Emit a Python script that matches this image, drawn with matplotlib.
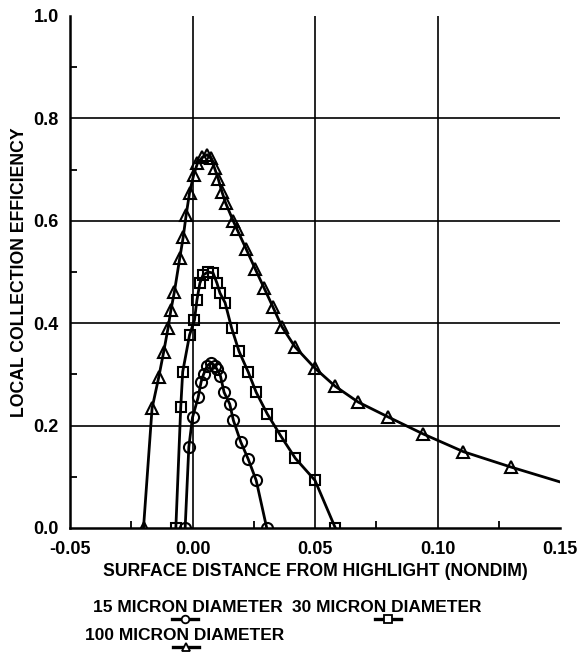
import matplotlib
matplotlib.use("Agg")
import matplotlib.pyplot as plt
from matplotlib.lines import Line2D
from matplotlib.ticker import MultipleLocator, FixedLocator

plt.rcParams['font.family'] = ['Liberation Sans', 'DejaVu Sans']
plt.rcParams['font.weight'] = 'bold'

# ---- data ----
d15_x = [-0.0030, -0.0015, 0.0000, 0.0023, 0.0035, 0.0045, 0.0060, 0.0076, 0.0090,
         0.0100, 0.0114, 0.0129, 0.0152, 0.0167, 0.0197, 0.0227, 0.0260, 0.0303]
d15_y = [0.000, 0.158, 0.216, 0.255, 0.285, 0.300, 0.317, 0.323, 0.317,
         0.310, 0.297, 0.265, 0.242, 0.210, 0.168, 0.135, 0.093, 0.000]

d30_x = [-0.0068, -0.0048, -0.0040, -0.0012, 0.0008, 0.0018, 0.0030, 0.0043, 0.0063,
         0.0084, 0.0100, 0.0112, 0.0133, 0.0160, 0.0190, 0.0228, 0.0260, 0.0305,
         0.0360, 0.0420, 0.0500, 0.0583]
d30_y = [0.000, 0.236, 0.305, 0.377, 0.406, 0.445, 0.478, 0.494, 0.500,
         0.498, 0.478, 0.459, 0.440, 0.390, 0.345, 0.304, 0.265, 0.223,
         0.180, 0.136, 0.093, 0.000]

d100_x = [-0.0200, -0.0165, -0.0138, -0.0118, -0.0100, -0.0088, -0.0074, -0.0052,
          -0.0038, -0.0026, -0.0012, 0.0005, 0.0020, 0.0040, 0.0060, 0.0075, 0.0090,
          0.0105, 0.0120, 0.0135, 0.0166, 0.0181, 0.0219, 0.0256, 0.0293, 0.0328,
          0.0365, 0.0418, 0.0500, 0.0582, 0.0676, 0.0798, 0.0940, 0.1106, 0.1300, 0.1500]
d100_y = [0.000, 0.234, 0.294, 0.343, 0.390, 0.426, 0.461, 0.527,
          0.568, 0.611, 0.655, 0.690, 0.712, 0.724, 0.729, 0.722, 0.703,
          0.682, 0.657, 0.635, 0.600, 0.584, 0.545, 0.506, 0.468, 0.432,
          0.393, 0.354, 0.312, 0.277, 0.246, 0.217, 0.184, 0.149, 0.119, 0.090]

x_ticks = [-0.05, 0.00, 0.05, 0.10, 0.15]
x_tick_labels = ["-0.05", "0.00", "0.05", "0.10", "0.15"]
y_ticks = [0.0, 0.2, 0.4, 0.6, 0.8, 1.0]
y_tick_labels = ["0.0", "0.2", "0.4", "0.6", "0.8", "1.0"]
grid_x = [0.00, 0.05, 0.10]
grid_y = [0.2, 0.4, 0.6, 0.8]

legend_labels = ["15 MICRON DIAMETER", "30 MICRON DIAMETER", "100 MICRON DIAMETER"]

W, H = 581, 652
fig = plt.figure(figsize=(W / 100, H / 100), dpi=100)
ax = fig.add_axes([70 / W, 1 - 528 / H, 490 / W, 512 / H])

ax.set_xlim(-0.05, 0.15)
ax.set_ylim(0.0, 1.0)

for gx in grid_x:
    ax.axvline(gx, color='black', lw=1.2, zorder=1)
for gy in grid_y:
    ax.axhline(gy, color='black', lw=1.2, zorder=1)

style = dict(color='black', lw=2.0, mfc='none', mec='black', mew=1.5, zorder=3)
ax.plot(d15_x, d15_y, marker='o', ms=8, **style)
ax.plot(d30_x, d30_y, marker='s', ms=7.5, **style)
ax.plot(d100_x, d100_y, marker='^', ms=9, markevery=slice(0, len(d100_x) - 1), **style)

for s in ['top', 'right']:
    ax.spines[s].set_visible(False)
for s in ['left', 'bottom']:
    ax.spines[s].set_linewidth(1.8)

ax.xaxis.set_major_locator(FixedLocator(x_ticks))
ax.set_xticklabels(x_tick_labels)
ax.yaxis.set_major_locator(FixedLocator(y_ticks))
ax.set_yticklabels(y_tick_labels)
ax.xaxis.set_minor_locator(MultipleLocator(0.025))
ax.yaxis.set_minor_locator(MultipleLocator(0.1))
ax.tick_params(which='major', length=0, labelsize=13, pad=9)
ax.tick_params(axis='y', which='major', pad=8)
ax.tick_params(which='minor', direction='in', length=5, width=1.3)
for lab in ax.get_xticklabels() + ax.get_yticklabels():
    lab.set_fontweight('bold')

ax.set_xlabel("SURFACE DISTANCE FROM HIGHLIGHT (NONDIM)", fontsize=12.7, fontweight='bold')
ax.xaxis.set_label_coords(0.5, -0.084)
ax.xaxis.label.set_va('center')
ax.set_ylabel("LOCAL COLLECTION EFFICIENCY", fontsize=12.7, fontweight='bold')
ax.yaxis.set_label_coords(-0.104, 0.5)
ax.yaxis.label.set_va('center')

# legend-like captions below the chart
tx = [93 / W, 292 / W, 85 / W]
ty = [1 - 607 / H, 1 - 607 / H, 1 - 635 / H]
for lab, x0, y0 in zip(legend_labels, tx, ty):
    fig.text(x0, y0, lab, fontsize=12.5, fontweight='bold', ha='left', va='center')

handles = [('o', 185, 619), ('s', 388, 619), ('^', 186, 647)]
for mk, cx, cy in handles:
    fig.add_artist(Line2D([(cx - 13) / W, (cx + 13) / W], [1 - cy / H, 1 - cy / H],
                          transform=fig.transFigure, color='black', lw=2.4))
    fig.add_artist(Line2D([cx / W], [1 - cy / H], transform=fig.transFigure,
                          marker=mk, ms=5.5, mfc='white', mec='black', mew=1.3, ls='none'))

fig.savefig("out.png", dpi=100)
